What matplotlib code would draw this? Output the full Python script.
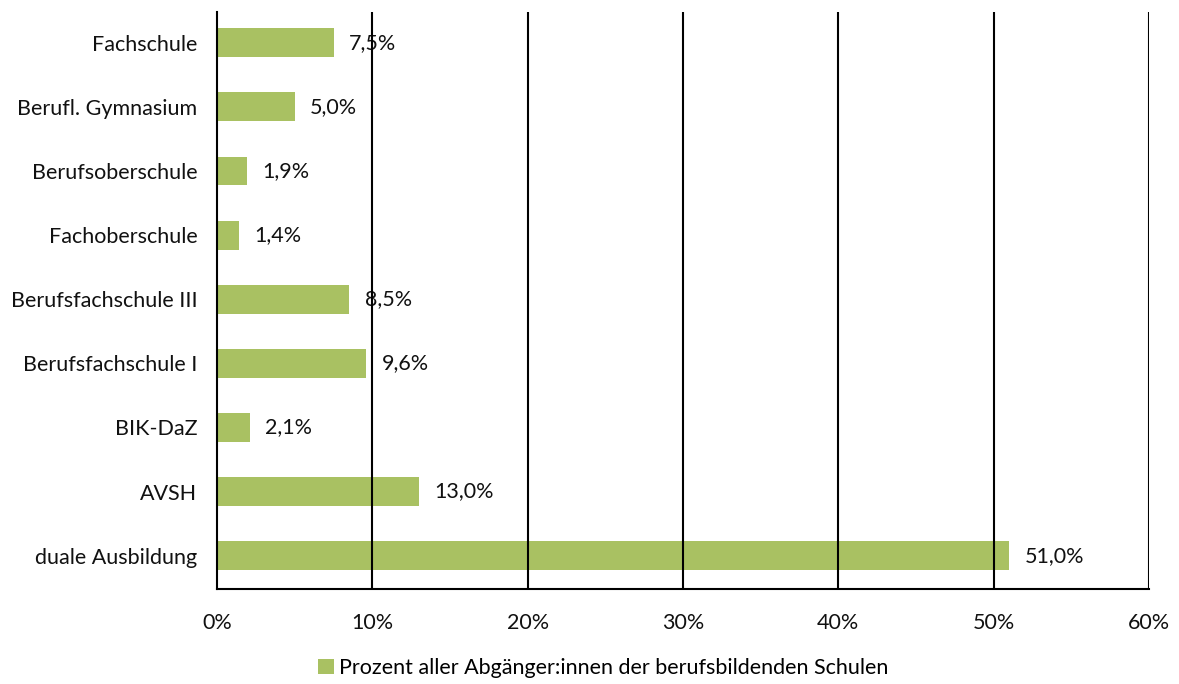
import matplotlib.pyplot as plt
from matplotlib.patches import Patch

plt.rcParams['font.family'] = ['Lato', 'DejaVu Sans']

categories = ['duale Ausbildung', 'AVSH', 'BIK-DaZ', 'Berufsfachschule I',
              'Berufsfachschule III', 'Fachoberschule', 'Berufsoberschule',
              'Berufl. Gymnasium', 'Fachschule']
values = [51.0, 13.0, 2.1, 9.6, 8.5, 1.4, 1.9, 5.0, 7.5]
value_labels = ['51,0%', '13,0%', '2,1%', '9,6%', '8,5%', '1,4%', '1,9%', '5,0%', '7,5%']
xticks = [0, 10, 20, 30, 40, 50, 60]
legend_label = 'Prozent aller Abgänger:innen der berufsbildenden Schulen'

bar_color = '#A9C162'
fs = 15.5

fig = plt.figure(figsize=(11.79, 6.84), dpi=100)
ax = fig.add_axes([217 / 1179, 1 - 589 / 684, (1149 - 217) / 1179, (589 - 12) / 684])

y = range(len(categories))
ax.barh(y, values, height=0.45, color=bar_color, zorder=1)
for yi, v, lab in zip(y, values, value_labels):
    ax.text(v + 1.0, yi, lab, va='center', ha='left', fontsize=fs, color='#111111', zorder=0.5)

ax.set_xlim(0, 60)
ax.set_ylim(-0.52, 8.48)
ax.set_xticks(xticks)
ax.set_xticklabels([f'{t}%' for t in xticks], fontsize=fs)
ax.set_yticks(list(y))
ax.set_yticklabels(categories, fontsize=fs)
ax.tick_params(axis='both', length=0, colors='#111111')
ax.tick_params(axis='x', pad=17)
ax.tick_params(axis='y', pad=14)

for t in xticks[1:]:
    ax.axvline(t, color='black', lw=1.5, zorder=3)

for s in ['top', 'right']:
    ax.spines[s].set_visible(False)
ax.spines['left'].set_linewidth(1.5)
ax.spines['bottom'].set_linewidth(1.5)
ax.spines['left'].set_zorder(3)
ax.spines['bottom'].set_zorder(3)

fig.legend(handles=[Patch(facecolor=bar_color, label=legend_label)],
           loc='center', bbox_to_anchor=(603 / 1179, 1 - 668 / 684),
           frameon=False, fontsize=fs, handlelength=0.75, handleheight=0.75,
           handletextpad=0.25)

fig.savefig('out.png', dpi=100)
